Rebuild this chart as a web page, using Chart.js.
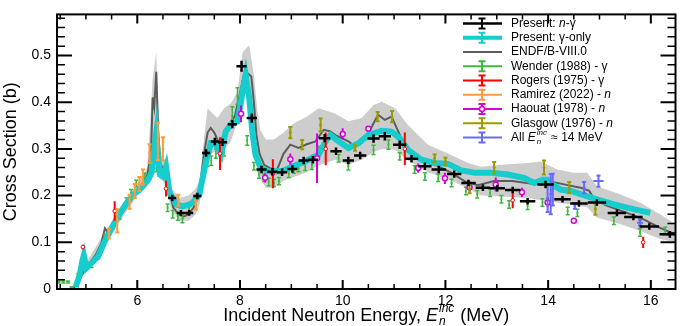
<!DOCTYPE html>
<html lang="en">
<head>
<meta charset="UTF-8">
<title>Cross section vs incident neutron energy</title>
<script src="https://cdn.jsdelivr.net/npm/chart.js@4.4.1/dist/chart.umd.min.js"></script>
<style>
  html, body { margin: 0; padding: 0; background: #fff; }
  #wrap { width: 681px; height: 326px; }
</style>
</head>
<body>
<div id="wrap"><canvas id="chart" width="681" height="326"></canvas></div>
<script>
// ---- values ----
const xTickValues = [6, 8, 10, 12, 14, 16];
const yTickValues = [0, 0.1, 0.2, 0.3, 0.4, 0.5];

// ENDF/B-VIII.0 evaluation (line)
const endfE  = [4.75, 4.85, 5.0, 5.1, 5.2, 5.3, 5.37, 5.45, 5.6, 5.75, 5.9, 6.0, 6.1, 6.2, 6.27, 6.3, 6.33, 6.37, 6.41, 6.45, 6.5, 6.56, 6.62, 6.7, 6.8, 6.9, 7.0, 7.1, 7.2, 7.3, 7.37, 7.43, 7.5, 7.6, 7.7, 7.8, 7.9, 8.0, 8.08, 8.15, 8.22, 8.27, 8.32, 8.38, 8.47, 8.6, 8.72, 8.85, 8.98, 9.14, 9.3, 9.47, 9.63, 9.75, 9.85, 10.0, 10.11, 10.24, 10.44, 10.6, 10.69, 10.82, 10.95, 11.05, 11.14, 11.34, 11.6, 11.86, 12.11, 12.37, 12.63, 12.95, 13.3, 13.73, 14.0, 14.31, 14.63, 14.8, 14.9, 15.15, 15.54, 15.86, 16.18, 16.48];
const endfXS = [0.0, 0.015, 0.045, 0.06, 0.075, 0.098, 0.13, 0.118, 0.145, 0.17, 0.195, 0.21, 0.225, 0.245, 0.30, 0.41, 0.39, 0.465, 0.33, 0.27, 0.255, 0.26, 0.21, 0.175, 0.16, 0.155, 0.16, 0.175, 0.2, 0.29, 0.335, 0.345, 0.335, 0.31, 0.335, 0.355, 0.37, 0.42, 0.46, 0.462, 0.455, 0.40, 0.33, 0.29, 0.266, 0.258, 0.255, 0.29, 0.309, 0.302, 0.31, 0.316, 0.341, 0.338, 0.33, 0.322, 0.316, 0.305, 0.32, 0.355, 0.373, 0.362, 0.369, 0.345, 0.323, 0.291, 0.273, 0.263, 0.249, 0.231, 0.222, 0.231, 0.231, 0.225, 0.231, 0.224, 0.217, 0.21, 0.192, 0.178, 0.163, 0.149, 0.131, 0.117];

// ENDF uncertainty band
const bandE  = [4.75, 5.0, 5.3, 5.6, 6.0, 6.2, 6.3, 6.37, 6.43, 6.5, 6.56, 6.66, 6.82, 7.0, 7.14, 7.21, 7.3, 7.37, 7.47, 7.56, 7.69, 7.82, 7.95, 8.05, 8.18, 8.27, 8.34, 8.4, 8.5, 8.66, 8.85, 9.05, 9.3, 9.53, 9.85, 10.11, 10.37, 10.6, 10.76, 11.02, 11.27, 11.66, 12.05, 12.44, 12.69, 13.08, 13.6, 13.86, 14.18, 14.5, 14.76, 14.95, 15.4, 15.79, 16.18, 16.48];
const bandHi = [0.005, 0.055, 0.11, 0.16, 0.225, 0.26, 0.45, 0.507, 0.30, 0.278, 0.273, 0.217, 0.195, 0.2, 0.215, 0.231, 0.323, 0.387, 0.375, 0.366, 0.387, 0.397, 0.422, 0.507, 0.522, 0.458, 0.38, 0.34, 0.32, 0.32, 0.335, 0.355, 0.369, 0.387, 0.376, 0.359, 0.366, 0.394, 0.401, 0.387, 0.351, 0.309, 0.29, 0.27, 0.262, 0.266, 0.27, 0.273, 0.256, 0.249, 0.249, 0.22, 0.203, 0.185, 0.16, 0.139];
const bandLo = [0.0, 0.038, 0.09, 0.135, 0.2, 0.232, 0.27, 0.36, 0.237, 0.23, 0.22, 0.17, 0.146, 0.146, 0.16, 0.18, 0.24, 0.28, 0.292, 0.295, 0.30, 0.315, 0.36, 0.43, 0.41, 0.295, 0.252, 0.235, 0.217, 0.217, 0.232, 0.24, 0.25, 0.265, 0.277, 0.266, 0.277, 0.293, 0.3, 0.298, 0.275, 0.25, 0.235, 0.215, 0.2, 0.198, 0.195, 0.19, 0.185, 0.18, 0.175, 0.153, 0.139, 0.124, 0.107, 0.1];

// Present: gamma-only
const gammaE  = [4.80, 4.88, 4.93, 4.96, 5.01, 5.1, 5.24, 5.37, 5.43, 5.55, 5.66, 5.8, 5.95, 6.04, 6.14, 6.22, 6.28, 6.33, 6.37, 6.40, 6.44, 6.5, 6.56, 6.63, 6.76, 6.88, 7.0, 7.08, 7.21, 7.34, 7.43, 7.53, 7.63, 7.72, 7.82, 7.95, 8.01, 8.06, 8.11, 8.18, 8.24, 8.30, 8.40, 8.56, 8.82, 9.01, 9.27, 9.53, 9.69, 9.76, 9.92, 10.11, 10.31, 10.5, 10.76, 10.95, 11.11, 11.27, 11.53, 11.79, 12.05, 12.31, 12.57, 12.89, 13.21, 13.53, 13.73, 13.89, 13.99, 14.08, 14.24, 14.44, 14.63, 14.95, 15.28, 15.66, 15.99];
const gammaXS = [0.004, 0.03, 0.06, 0.072, 0.045, 0.055, 0.07, 0.103, 0.115, 0.14, 0.162, 0.185, 0.205, 0.212, 0.224, 0.235, 0.25, 0.30, 0.334, 0.29, 0.245, 0.241, 0.262, 0.205, 0.181, 0.177, 0.18, 0.185, 0.203, 0.273, 0.312, 0.309, 0.288, 0.337, 0.352, 0.359, 0.394, 0.43, 0.458, 0.408, 0.337, 0.288, 0.259, 0.252, 0.252, 0.262, 0.273, 0.288, 0.32, 0.33, 0.316, 0.302, 0.312, 0.33, 0.339, 0.337, 0.323, 0.298, 0.277, 0.27, 0.268, 0.254, 0.249, 0.249, 0.245, 0.238, 0.227, 0.234, 0.234, 0.224, 0.213, 0.21, 0.203, 0.192, 0.181, 0.171, 0.163];

// Present: n-gamma (binned)
const ngE   = [6.68, 6.85, 7.01, 7.17, 7.34, 7.51, 7.66, 7.85, 8.03, 8.23, 8.42, 8.63, 8.82, 9.02, 9.24, 9.42, 9.65, 9.87, 10.11, 10.34, 10.60, 10.82, 11.11, 11.34, 11.60, 11.87, 12.17, 12.45, 12.73, 13.01, 13.31, 13.60, 13.95, 14.28, 14.60, 14.95, 15.34, 15.66, 15.97, 16.37];
const ngXS  = [0.195, 0.163, 0.163, 0.199, 0.291, 0.316, 0.314, 0.353, 0.477, 0.366, 0.256, 0.251, 0.25, 0.257, 0.275, 0.277, 0.323, 0.295, 0.275, 0.286, 0.322, 0.327, 0.309, 0.279, 0.263, 0.256, 0.246, 0.227, 0.217, 0.216, 0.212, 0.188, 0.224, 0.192, 0.183, 0.185, 0.163, 0.154, 0.134, 0.117];
const ngDE  = [0.08, 0.08, 0.08, 0.08, 0.08, 0.08, 0.09, 0.09, 0.1, 0.1, 0.1, 0.1, 0.1, 0.1, 0.1, 0.1, 0.11, 0.11, 0.11, 0.12, 0.12, 0.12, 0.13, 0.13, 0.13, 0.14, 0.14, 0.14, 0.14, 0.15, 0.15, 0.15, 0.16, 0.16, 0.17, 0.18, 0.18, 0.18, 0.19, 0.2];
const ngDXS = [0.007, 0.006, 0.006, 0.007, 0.008, 0.008, 0.008, 0.009, 0.012, 0.01, 0.008, 0.008, 0.008, 0.008, 0.008, 0.008, 0.009, 0.008, 0.008, 0.008, 0.009, 0.009, 0.009, 0.008, 0.008, 0.008, 0.008, 0.007, 0.007, 0.007, 0.007, 0.007, 0.008, 0.007, 0.007, 0.007, 0.007, 0.007, 0.007, 0.007];

// Wender (1988) - gamma
const wenderE   = [4.47, 4.56, 4.65, 4.72, 4.85, 4.98, 5.11, 5.24, 5.37, 5.53, 5.66, 5.79, 5.88, 5.98, 6.15, 6.37, 6.59, 6.69, 6.79, 6.88, 7.01, 7.37, 7.44, 7.53, 7.69, 7.85, 7.95, 8.14, 8.27, 8.37, 8.47, 8.56, 8.66, 8.76, 8.95, 9.05, 9.14, 9.27, 9.40, 9.53, 9.92, 10.11, 10.60, 10.89, 11.11, 11.40, 11.60, 11.86, 12.12, 12.40, 12.62, 12.87, 13.09, 13.24, 13.60, 13.89, 14.38, 14.57, 15.28, 15.79, 16.28];
const wenderXS  = [0.015, 0.015, 0.015, 0.003, 0.029, 0.043, 0.05, 0.07, 0.11, 0.135, 0.156, 0.188, 0.206, 0.226, 0.24, 0.259, 0.174, 0.16, 0.155, 0.15, 0.17, 0.273, 0.275, 0.29, 0.295, 0.37, 0.413, 0.318, 0.263, 0.245, 0.238, 0.229, 0.227, 0.231, 0.247, 0.256, 0.259, 0.262, 0.266, 0.295, 0.28, 0.263, 0.298, 0.309, 0.284, 0.256, 0.241, 0.238, 0.227, 0.21, 0.203, 0.206, 0.192, 0.181, 0.178, 0.185, 0.167, 0.163, 0.146, 0.121, 0.124];
const wenderErr = [0.002, 0.002, 0.002, 0.002, 0.004, 0.004, 0.004, 0.005, 0.006, 0.006, 0.006, 0.007, 0.007, 0.007, 0.008, 0.008, 0.008, 0.008, 0.008, 0.008, 0.008, 0.01, 0.01, 0.01, 0.01, 0.02, 0.018, 0.01, 0.008, 0.008, 0.008, 0.008, 0.008, 0.008, 0.008, 0.008, 0.008, 0.008, 0.01, 0.01, 0.008, 0.008, 0.01, 0.01, 0.008, 0.008, 0.008, 0.008, 0.008, 0.008, 0.008, 0.008, 0.008, 0.008, 0.008, 0.008, 0.008, 0.008, 0.008, 0.008, 0.008];

// Rogers (1975) - gamma
const rogersE   = [4.94, 5.56, 6.56, 7.61, 8.64, 9.67, 11.21, 13.31, 15.85];
const rogersXS  = [0.09, 0.167, 0.215, 0.29, 0.247, 0.30, 0.30, 0.19, 0.10];
const rogersErr = [0.005, 0.021, 0.017, 0.035, 0.031, 0.035, 0.035, 0.017, 0.012];

// Ramirez (2022) - n
const ramirezE   = [5.45, 5.61, 5.85, 5.95, 6.04, 6.11, 6.24, 6.40, 6.50, 6.80, 7.14];
const ramirezXS  = [0.118, 0.146, 0.187, 0.21, 0.225, 0.24, 0.29, 0.316, 0.30, 0.19, 0.18];
const ramirezErr = [0.01, 0.025, 0.015, 0.015, 0.015, 0.016, 0.02, 0.04, 0.025, 0.012, 0.01];

// Haouat (1978) - n
const haouatE   = [8.02, 8.49, 8.98, 9.50, 10.0, 10.50, 11.47, 11.99, 12.47, 12.98, 13.49, 13.99, 14.50];
const haouatXS  = [0.375, 0.238, 0.278, 0.28, 0.332, 0.343, 0.259, 0.237, 0.218, 0.224, 0.207, 0.185, 0.146];
const haouatErr = [0.018, 0.01, 0.012, 0.053, 0.012, 0.006, 0.01, 0.012, 0.012, 0.015, 0.01, 0.01, 0.006];

// Glasgow (1976) - n
const glasgowE   = [8.98, 9.21, 9.57, 10.24, 10.68, 10.96, 11.79, 12.0, 12.47, 12.95, 13.92, 14.41, 14.92];
const glasgowXS  = [0.335, 0.309, 0.351, 0.302, 0.369, 0.369, 0.28, 0.273, 0.215, 0.26, 0.26, 0.217, 0.171];
const glasgowErr = [0.012, 0.01, 0.014, 0.006, 0.01, 0.012, 0.008, 0.008, 0.01, 0.012, 0.015, 0.012, 0.012];

// All data near 14 MeV
const e14E    = [13.99, 14.05, 14.09, 14.52, 14.70, 14.98, 15.79];
const e14XS   = [0.195, 0.203, 0.213, 0.178, 0.217, 0.231, 0.142];
const e14Err  = [0.03, 0.043, 0.034, 0.006, 0.012, 0.012, 0.006];
const e14DE   = [0, 0, 0, 0, 0, 0.1, 0.06];

// ---- colours ----
const FONT = '"Liberation Sans", Arial, Helvetica, sans-serif';
const cBlack = '#000000', cCyan = '#16cccc', cEndf = '#5c5c5c', cBand = '#cdcdcd';
const cGreen = '#3cb83c', cRed = '#ff0000', cOrange = '#ff9a3a', cMag = '#d800d8';
const cOlive = '#9b9b00', cBlue = '#6a6aff';

const pts = (xs, ys) => xs.map((x, i) => ({ x: x, y: ys[i] }));

// error bars, drawn through the chart scales before each dataset's markers
const errorBars = {
  id: 'errorBars',
  beforeDatasetDraw(chart, args) {
    const ds = chart.data.datasets[args.index];
    if (!ds.errY && !ds.errX) return;
    const { ctx, chartArea: a, scales: { x, y } } = chart;
    ctx.save();
    ctx.beginPath();
    ctx.rect(a.left, a.top, a.right - a.left, a.bottom - a.top);
    ctx.clip();
    ctx.strokeStyle = ds.borderColor;
    ctx.lineWidth = ds.errWidth || 1.5;
    ctx.lineCap = 'butt';
    ds.data.forEach((p, i) => {
      const px = x.getPixelForValue(p.x), py = y.getPixelForValue(p.y);
      ctx.beginPath();
      if (ds.errY && ds.errY[i]) {
        const y0 = y.getPixelForValue(p.y - ds.errY[i]);
        const y1 = y.getPixelForValue(p.y + ds.errY[i]);
        ctx.moveTo(px, y0); ctx.lineTo(px, y1);
        if (ds.cap) {
          ctx.moveTo(px - ds.cap, y0); ctx.lineTo(px + ds.cap, y0);
          ctx.moveTo(px - ds.cap, y1); ctx.lineTo(px + ds.cap, y1);
        }
      }
      if (ds.errX && ds.errX[i]) {
        ctx.moveTo(x.getPixelForValue(p.x - ds.errX[i]), py);
        ctx.lineTo(x.getPixelForValue(p.x + ds.errX[i]), py);
      }
      ctx.stroke();
    });
    ctx.restore();
  }
};

// text with italic parts and stacked sub/superscripts
function drawRich(ctx, parts, x, y, size, measureOnly) {
  let cx = x;
  parts.forEach(p => {
    if (typeof p === 'string') p = { t: p };
    if (p.sub !== undefined) {
      const s = Math.round(size * 0.68);
      ctx.font = `italic ${s}px ${FONT}`;
      const w = Math.max(ctx.measureText(p.sub).width, ctx.measureText(p.sup).width);
      if (!measureOnly) {
        ctx.fillText(p.sub, cx + 1, y + size * 0.32);
        ctx.fillText(p.sup, cx + 1, y - size * 0.42);
      }
      cx += w + 2;
    } else {
      ctx.font = `${p.it ? 'italic ' : ''}${size}px ${FONT}`;
      if (!measureOnly) ctx.fillText(p.t, cx, y);
      cx += ctx.measureText(p.t).width;
    }
  });
  return cx - x;
}

const legendRows = [
  { color: cBlack, lw: 2.5, err: true, text: ['Present: ', { t: 'n', it: true }, '-γ'] },
  { color: cCyan, lw: 4, err: true, text: ['Present: γ-only'] },
  { color: cEndf, lw: 2, err: false, text: ['ENDF/B-VIII.0'] },
  { color: cGreen, lw: 2, err: true, text: ['Wender (1988) - γ'] },
  { color: cRed, lw: 2, err: true, text: ['Rogers (1975) - γ'] },
  { color: cOrange, lw: 2, err: true, text: ['Ramirez (2022) - ', { t: 'n', it: true }] },
  { color: cMag, lw: 2, err: true, circle: true, text: ['Haouat (1978) - ', { t: 'n', it: true }] },
  { color: cOlive, lw: 2, err: true, text: ['Glasgow (1976) - ', { t: 'n', it: true }] },
  { color: cBlue, lw: 2, err: true, text: ['All ', { t: 'E', it: true }, { sub: 'n', sup: 'inc' }, ' ≈ 14 MeV'] }
];

const frameAndLegend = {
  id: 'frameAndLegend',
  afterDraw(chart) {
    const { ctx, chartArea: a, scales: { x, y } } = chart;
    ctx.save();
    ctx.strokeStyle = '#000';
    // inward ticks on all four sides
    for (let v = 4.5; v <= 16.48; v += 0.5) {
      const px = x.getPixelForValue(v);
      const major = Math.abs(v % 2) < 1e-6;
      const len = major ? 9 : 5;
      ctx.lineWidth = major ? 2 : 1.5;
      ctx.beginPath();
      ctx.moveTo(px, a.bottom); ctx.lineTo(px, a.bottom - len);
      ctx.moveTo(px, a.top); ctx.lineTo(px, a.top + len);
      ctx.stroke();
    }
    for (let k = 0; k <= 29; k++) {
      const v = k * 0.02;
      if (v > 0.588) break;
      const py = y.getPixelForValue(v);
      const major = k % 5 === 0;
      const len = major ? 15 : 8;
      ctx.lineWidth = major ? 2 : 1.5;
      ctx.beginPath();
      ctx.moveTo(a.left, py); ctx.lineTo(a.left + len, py);
      ctx.moveTo(a.right, py); ctx.lineTo(a.right - len, py);
      ctx.stroke();
    }
    ctx.lineWidth = 2;
    ctx.strokeRect(a.left, a.top, a.right - a.left, a.bottom - a.top);

    // x-axis title with E_n^inc
    ctx.fillStyle = '#000';
    ctx.textBaseline = 'middle';
    const title = ['Incident Neutron Energy, ', { t: 'E', it: true }, { sub: 'n', sup: 'inc' }, ' (MeV)'];
    const tw = drawRich(ctx, title, 0, 0, 18, true);
    drawRich(ctx, title, (a.left + a.right) / 2 - tw / 2, 316, 18, false);

    // legend
    const lx0 = 463, lx1 = 502, lxm = 482, tx = 511;
    legendRows.forEach((r, i) => {
      const ry = 23.5 + i * 14.25;
      ctx.strokeStyle = r.color;
      ctx.lineWidth = r.lw;
      ctx.beginPath();
      ctx.moveTo(lx0, ry); ctx.lineTo(lx1, ry);
      ctx.stroke();
      if (r.err) {
        ctx.lineWidth = 2;
        ctx.beginPath();
        ctx.moveTo(lxm, ry - 5); ctx.lineTo(lxm, ry + 5);
        ctx.moveTo(lxm - 3.5, ry - 5); ctx.lineTo(lxm + 3.5, ry - 5);
        ctx.moveTo(lxm - 3.5, ry + 5); ctx.lineTo(lxm + 3.5, ry + 5);
        ctx.stroke();
      }
      if (r.circle) {
        ctx.fillStyle = '#fff';
        ctx.lineWidth = 1.5;
        ctx.beginPath();
        ctx.arc(lxm, ry, 2.5, 0, Math.PI * 2);
        ctx.fill(); ctx.stroke();
      }
      ctx.fillStyle = '#000';
      drawRich(ctx, r.text, tx, ry, 12, false);
    });
    ctx.restore();
  }
};

Chart.defaults.font.family = FONT;
Chart.defaults.color = '#000';

new Chart(document.getElementById('chart'), {
  type: 'line',
  data: {
    datasets: [
      { data: pts(bandE, bandLo), borderWidth: 0, pointRadius: 0, fill: false, order: 12 },
      { data: pts(bandE, bandHi), borderWidth: 0, pointRadius: 0, fill: '-1', backgroundColor: cBand, order: 11 },
      { data: pts(endfE, endfXS), borderColor: cEndf, borderWidth: 2, pointRadius: 0, order: 10 },
      { data: pts(wenderE, wenderXS), showLine: false, borderColor: cGreen, backgroundColor: cGreen,
        pointStyle: 'rect', pointRadius: 1.3, pointBorderWidth: 0, errY: wenderErr, cap: 2, errWidth: 1.5, order: 9 },
      { data: pts(gammaE, gammaXS), borderColor: cCyan, borderWidth: 6, pointRadius: 0, order: 8 },
      { data: pts(rogersE, rogersXS), showLine: false, borderColor: cRed, backgroundColor: '#fff',
        pointRadius: 1.8, pointBorderWidth: 1, errY: rogersErr, cap: 0, errWidth: 2, order: 7 },
      { data: pts(ramirezE, ramirezXS), showLine: false, borderColor: cOrange, backgroundColor: cOrange,
        pointRadius: 1, errY: ramirezErr, cap: 2, errWidth: 2, order: 6 },
      { data: pts(haouatE, haouatXS), showLine: false, borderColor: cMag, backgroundColor: '#fff',
        pointRadius: 2.5, pointBorderWidth: 1.5, errY: haouatErr, cap: 0, errWidth: 2, order: 5 },
      { data: pts(glasgowE, glasgowXS), showLine: false, borderColor: cOlive, backgroundColor: cOlive,
        pointRadius: 1, errY: glasgowErr, cap: 2, errWidth: 2, order: 4 },
      { data: pts(e14E, e14XS), showLine: false, borderColor: cBlue, backgroundColor: cBlue,
        pointRadius: 1, errY: e14Err, errX: e14DE, cap: 2, errWidth: 2, order: 3 },
      { data: pts(ngE, ngXS), showLine: false, borderColor: cBlack, backgroundColor: cBlack,
        pointRadius: 0, errY: ngDXS, errX: ngDE, cap: 0, errWidth: 2.5, order: 1 }
    ]
  },
  options: {
    responsive: false,
    animation: false,
    devicePixelRatio: 1,
    layout: { padding: { top: 12, right: 2, left: 0, bottom: 0 } },
    plugins: { legend: { display: false }, tooltip: { enabled: false } },
    elements: { line: { tension: 0 } },
    scales: {
      x: {
        type: 'linear', min: 4.437, max: 16.48,
        grid: { display: false, drawTicks: false }, border: { display: false },
        ticks: { font: { size: 14 }, padding: 4, maxRotation: 0 },
        afterBuildTicks: (s) => { s.ticks = xTickValues.map(v => ({ value: v })); },
        afterFit: (s) => { s.height = 37; }
      },
      y: {
        type: 'linear', min: 0, max: 0.588,
        grid: { display: false, drawTicks: false }, border: { display: false },
        ticks: { font: { size: 14 }, padding: 6, callback: (v) => v === 0 ? '0' : v.toFixed(1) },
        afterBuildTicks: (s) => { s.ticks = yTickValues.map(v => ({ value: v })); },
        afterFit: (s) => { s.width = 57; },
        title: { display: true, text: 'Cross Section (b)', font: { size: 18 }, padding: { top: 0, bottom: 4 } }
      }
    }
  },
  plugins: [errorBars, frameAndLegend]
});
</script>
</body>
</html>
